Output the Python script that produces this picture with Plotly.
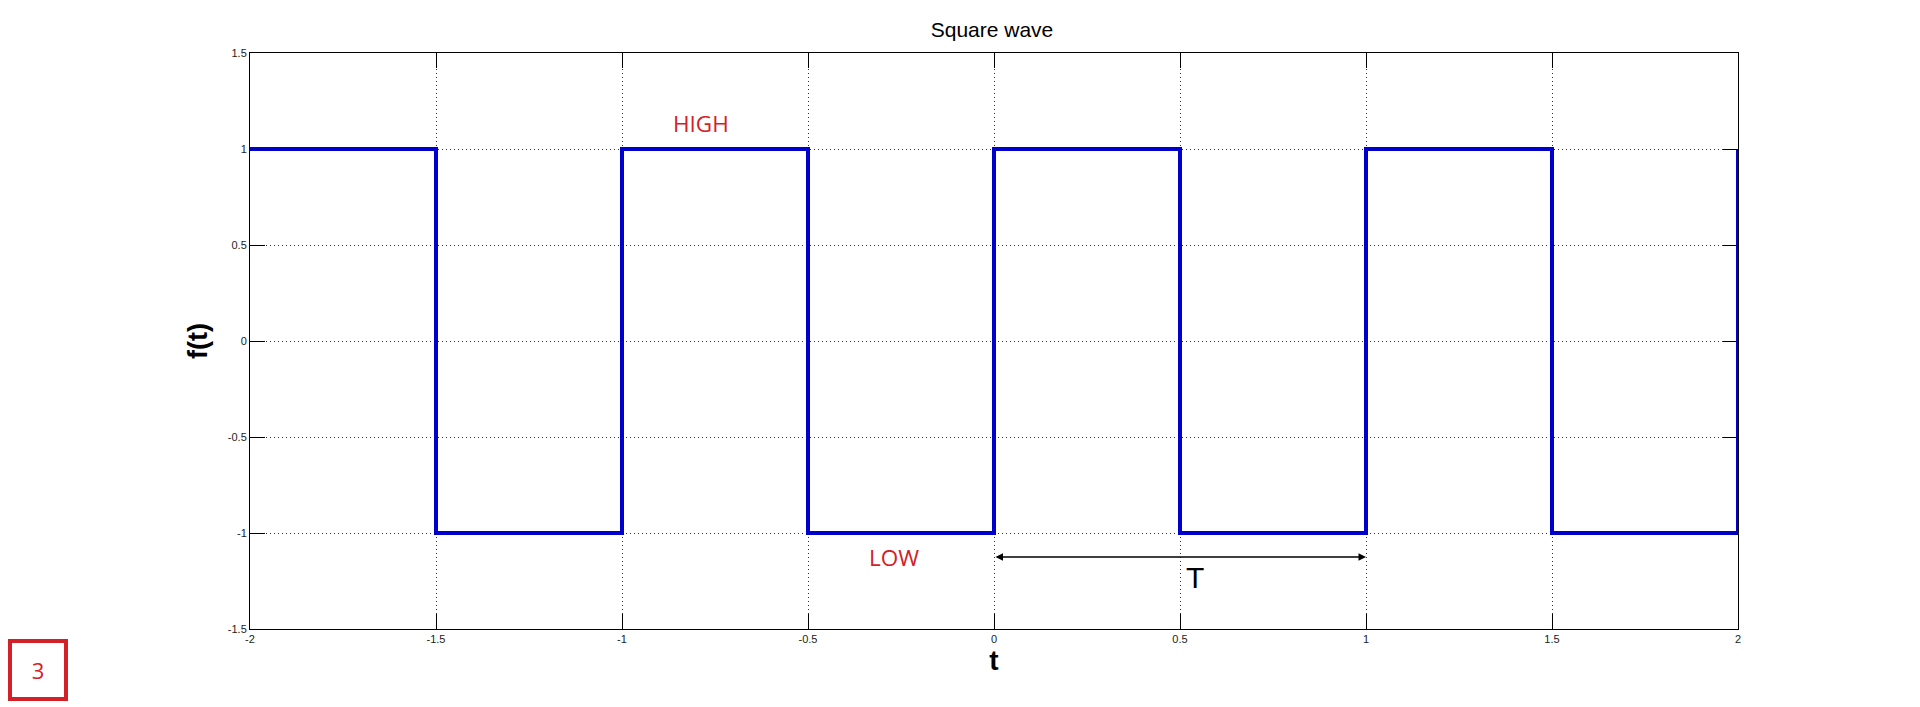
import plotly.graph_objects as go

t_edges = [-2, -1.5, -1, -0.5, 0, 0.5, 1, 1.5, 2]
f_vals = [1, -1, 1, -1, 1, -1, 1, -1, 1]
x_ticks = [-2, -1.5, -1, -0.5, 0, 0.5, 1, 1.5, 2]
x_ticklabels = ["-2", "-1.5", "-1", "-0.5", "0", "0.5", "1", "1.5", "2"]
y_ticks = [-1.5, -1, -0.5, 0, 0.5, 1, 1.5]
y_ticklabels = ["-1.5", "-1", "-0.5", "0", "0.5", "1", "1.5"]
period_start, period_end, period_y = 0, 1, -1.125

fig = go.Figure()
fig.add_trace(go.Scatter(x=t_edges, y=f_vals, mode="lines", line_shape="hv",
                         line=dict(color="rgb(0,0,204)", width=4), showlegend=False))

axis_common = dict(showline=True, linecolor="black", linewidth=1, mirror="ticks",
                   ticks="inside", ticklen=15, tickcolor="black", tickwidth=1,
                   showgrid=True, gridcolor="rgba(0,0,0,0.8)", griddash="1px,3px", gridwidth=1,
                   zeroline=False, tickfont=dict(family="Liberation Sans, Arial", size=11, color="#222"))

fig.update_xaxes(range=[-2, 2], tickvals=x_ticks, ticktext=x_ticklabels,
                 title=dict(text="<b>t</b>", font=dict(family="Liberation Sans, Arial", size=28, color="black"), standoff=4),
                 **axis_common)
fig.update_yaxes(range=[-1.5, 1.5], tickvals=y_ticks, ticktext=y_ticklabels,
                 title=dict(text="<b>f(t)</b>", font=dict(family="Liberation Sans, Arial", size=27, color="black"), standoff=12),
                 **axis_common)

fig.add_annotation(x=-0.787, y=1.135, text="HIGH", showarrow=False,
                   font=dict(family="Open Sans, Noto Sans", size=22.5, color="#D42027"))
fig.add_annotation(x=-0.269, y=-1.13, text="LOW", showarrow=False,
                   font=dict(family="Open Sans, Noto Sans", size=22.5, color="#D42027"))
fig.add_annotation(x=period_end, y=period_y, ax=period_start, ay=period_y, axref="x", ayref="y",
                   xref="x", yref="y", text="", showarrow=True, arrowhead=2, arrowside="end+start",
                   arrowsize=1, arrowwidth=1.5, arrowcolor="black")
fig.add_annotation(x=0.54, y=-1.234, text="T", showarrow=False,
                   font=dict(family="Liberation Sans, Arial", size=30, color="black"))
fig.add_annotation(x=-0.1425, y=-0.0712, xref="paper", yref="paper", xanchor="center", yanchor="middle",
                   text="3", showarrow=False,
                   font=dict(family="Open Sans, Noto Sans", size=22, color="#D42027"),
                   bordercolor="#D42027", borderwidth=4, borderpad=0, width=52, height=54,
                   bgcolor="white")

fig.update_layout(
    width=1920, height=707,
    margin=dict(l=242, r=190, t=45, b=86),
    paper_bgcolor="white", plot_bgcolor="white",
    title=dict(text="Square wave", x=984/1920, xanchor="center", y=1 - 22/707, yanchor="middle",
               font=dict(family="Liberation Sans, Arial", size=21, color="black")),
)

fig.write_html("out.html")
